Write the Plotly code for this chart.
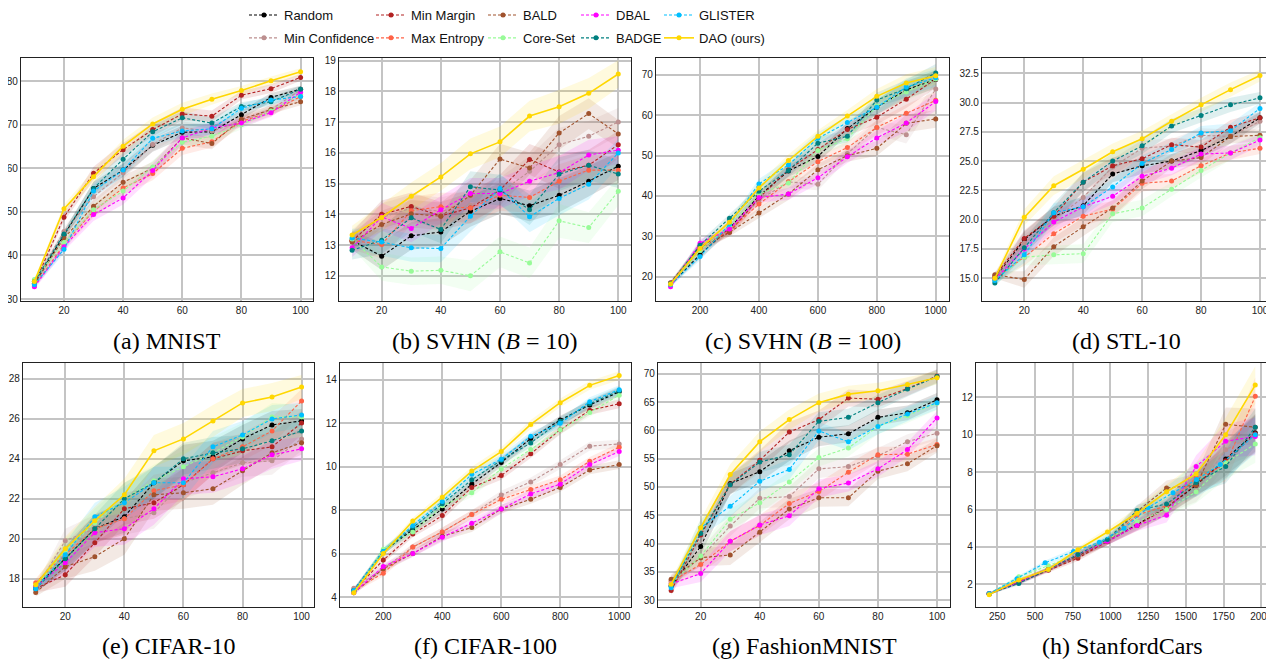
import plotly.graph_objects as go

methods = ["Random", "Min Confidence", "Min Margin", "Max Entropy", "BALD",
           "Core-Set", "DBAL", "BADGE", "GLISTER", "DAO (ours)"]
colors = ["#000000", "#bc8f8f", "#b22222", "#ff6347", "#a0522d",
          "#98fb98", "#ff00ff", "#008080", "#00bfff", "#ffd700"]
legend_ids = ["legend", "legend", "legend2", "legend2", "legend3",
              "legend3", "legend4", "legend4", "legend5", "legend5"]

x_pct = [10, 20, 30, 40, 50, 60, 70, 80, 90, 100]
x_svhn100 = [100, 200, 300, 400, 500, 600, 700, 800, 900, 1000]
x_cars = [196, 392, 588, 784, 980, 1176, 1372, 1568, 1764, 1960]
x_cars_glister = [196, 380, 567, 755, 926, 1090, 1250, 1415, 1570, 1728, 1960]

mnist = {
    "Random":         [33.5, 44.7, 55.4, 59.6, 65.3, 68.3, 68.4, 72.3, 76.3, 78.2],
    "Min Confidence": [34.0, 45.5, 53.5, 59.0, 65.5, 69.3, 68.5, 71.0, 73.5, 78.0],
    "Min Margin":     [33.5, 48.8, 58.9, 64.3, 68.9, 72.5, 72.0, 76.8, 78.3, 80.9],
    "Max Entropy":    [33.0, 42.5, 50.2, 55.5, 58.8, 64.6, 66.1, 70.8, 73.0, 76.5],
    "BALD":           [33.5, 44.0, 51.3, 56.8, 60.0, 67.0, 65.7, 71.3, 73.5, 75.3],
    "Core-Set":       [34.5, 43.0, 50.5, 54.8, 60.3, 66.0, 67.4, 70.0, 73.2, 77.0],
    "DBAL":           [32.8, 42.0, 49.4, 53.2, 59.5, 67.0, 69.3, 70.4, 72.8, 77.5],
    "BADGE":          [34.0, 44.9, 55.4, 62.1, 68.4, 71.6, 70.4, 74.2, 75.3, 78.2],
    "GLISTER":        [33.3, 41.4, 54.8, 59.6, 66.9, 68.6, 69.1, 73.8, 75.7, 76.5],
    "DAO (ours)":     [34.0, 50.7, 58.1, 65.1, 70.2, 73.6, 75.9, 77.9, 80.1, 82.2],
}
mnist_band = [0.6, 1.0, 1.5, 1.5, 1.5, 1.5, 1.3, 1.0, 1.0, 0.8]

svhn10 = {
    "Random":         [13.15, 12.64, 13.30, 13.43, 14.10, 14.52, 14.28, 14.62, 15.08, 15.57],
    "Min Confidence": [13.20, 13.90, 14.20, 14.10, 14.30, 14.70, 15.40, 16.27, 16.54, 17.01],
    "Min Margin":     [13.13, 14.00, 14.26, 13.95, 14.21, 14.79, 15.79, 15.38, 15.60, 16.27],
    "Max Entropy":    [13.15, 13.02, 14.12, 14.25, 14.21, 14.62, 14.55, 15.08, 15.44, 15.44],
    "BALD":           [13.10, 13.67, 14.02, 13.94, 14.62, 15.80, 15.51, 16.65, 17.28, 16.62],
    "Core-Set":       [13.20, 12.29, 12.15, 12.18, 12.00, 12.78, 12.42, 13.79, 13.57, 14.75],
    "DBAL":           [12.91, 13.92, 13.54, 14.15, 14.68, 14.68, 15.08, 15.36, 15.93, 16.09],
    "BADGE":          [12.83, 13.16, 13.89, 13.51, 14.90, 14.79, 14.15, 15.31, 15.60, 15.31],
    "GLISTER":        [13.23, 13.10, 12.91, 12.89, 13.94, 14.84, 13.92, 14.52, 14.98, 16.00],
    "DAO (ours)":     [13.33, 13.90, 14.59, 15.22, 15.97, 16.36, 17.20, 17.50, 17.94, 18.57],
}
svhn10_band = [0.3, 0.45, 0.45, 0.45, 0.5, 0.5, 0.5, 0.55, 0.5, 0.45]

svhn100 = {
    "Random":         [18.0, 25.5, 32.0, 40.0, 46.2, 49.8, 56.7, 62.0, 66.3, 68.9],
    "Min Confidence": [18.0, 27.5, 31.5, 39.0, 43.5, 42.9, 50.5, 57.0, 55.2, 66.5],
    "Min Margin":     [18.5, 27.5, 31.0, 39.5, 46.5, 51.5, 56.5, 59.5, 64.0, 69.0],
    "Max Entropy":    [18.3, 27.0, 31.5, 38.0, 43.5, 48.5, 52.0, 57.0, 60.5, 63.7],
    "BALD":           [18.3, 27.0, 31.0, 35.8, 40.5, 46.5, 50.0, 51.8, 58.0, 59.1],
    "Core-Set":       [18.0, 26.5, 32.5, 40.5, 43.2, 51.3, 54.2, 62.3, 65.8, 69.0],
    "DBAL":           [17.5, 28.3, 31.8, 39.6, 40.5, 44.5, 49.7, 54.4, 58.1, 63.4],
    "BADGE":          [18.3, 27.8, 34.5, 41.2, 46.3, 53.1, 54.8, 63.8, 66.6, 70.5],
    "GLISTER":        [18.0, 25.0, 33.0, 43.0, 47.7, 54.3, 58.2, 62.0, 67.0, 69.3],
    "DAO (ours)":     [18.2, 27.0, 33.5, 42.0, 48.8, 54.8, 59.8, 64.7, 68.0, 69.8],
}
svhn100_band = [0.5, 1.0, 1.0, 1.2, 1.5, 1.5, 1.5, 1.8, 2.2, 2.2]

stl10 = {
    "Random":         [15.0, 18.3, 20.3, 21.2, 23.9, 24.6, 25.0, 25.9, 27.1, 28.7],
    "Min Confidence": [15.0, 18.0, 20.0, 21.9, 24.5, 26.1, 26.3, 27.2, 27.1, 28.4],
    "Min Margin":     [15.2, 18.4, 20.3, 23.2, 24.6, 25.2, 26.4, 26.2, 27.9, 28.7],
    "Max Entropy":    [15.0, 16.8, 18.8, 20.3, 20.9, 23.1, 23.3, 24.6, 25.7, 26.1],
    "BALD":           [15.3, 14.9, 17.7, 19.4, 21.0, 23.3, 25.0, 25.3, 27.1, 27.2],
    "Core-Set":       [14.8, 16.8, 17.0, 17.1, 20.5, 21.0, 22.6, 24.2, 25.7, 27.0],
    "DBAL":           [14.9, 17.5, 19.8, 21.1, 22.0, 23.7, 24.4, 25.6, 25.7, 26.8],
    "BADGE":          [14.6, 17.6, 20.6, 23.2, 25.0, 26.3, 28.0, 28.9, 29.8, 30.4],
    "GLISTER":        [14.8, 17.0, 20.6, 21.1, 22.8, 24.8, 26.0, 27.4, 27.6, 29.5],
    "DAO (ours)":     [15.0, 20.2, 22.9, 24.3, 25.8, 26.9, 28.4, 29.8, 31.1, 32.3],
}
stl10_band = [0.3, 0.7, 0.8, 0.8, 0.7, 0.7, 0.6, 0.6, 0.6, 0.5]

cifar10 = {
    "Random":         [17.6, 19.0, 20.5, 21.1, 22.8, 23.9, 24.1, 25.0, 25.7, 25.9],
    "Min Confidence": [17.5, 19.9, 20.5, 21.0, 21.3, 22.8, 23.3, 23.8, 23.9, 25.0],
    "Min Margin":     [17.5, 18.2, 19.8, 21.5, 21.8, 22.7, 24.0, 24.4, 24.6, 25.8],
    "Max Entropy":    [17.8, 19.2, 20.5, 21.0, 22.4, 22.7, 24.0, 24.6, 25.4, 26.9],
    "BALD":           [17.3, 18.6, 19.1, 20.0, 22.2, 22.3, 22.5, 23.4, 24.3, 24.8],
    "Core-Set":       [17.6, 19.4, 20.8, 22.0, 22.9, 23.6, 24.3, 25.1, 26.1, 26.1],
    "DBAL":           [17.6, 18.8, 20.3, 20.5, 21.5, 23.0, 23.1, 23.5, 24.2, 24.5],
    "BADGE":          [17.5, 19.0, 20.5, 22.0, 22.8, 24.0, 24.3, 24.5, 24.9, 25.4],
    "GLISTER":        [17.5, 19.2, 21.1, 21.8, 22.8, 22.8, 24.6, 25.2, 26.0, 26.2],
    "DAO (ours)":     [17.7, 19.5, 20.9, 22.2, 24.4, 25.0, 25.9, 26.8, 27.1, 27.6],
}
cifar10_band = [0.2, 0.6, 0.7, 0.8, 0.8, 0.8, 0.8, 0.7, 0.7, 0.6]

cifar100 = {
    "Random":         [4.3, 6.1, 7.1, 8.05, 9.2, 10.2, 11.3, 12.15, 12.85, 13.45],
    "Min Confidence": [4.4, 5.3, 6.3, 7.0, 7.8, 8.7, 9.3, 10.1, 10.95, 11.05],
    "Min Margin":     [4.3, 5.7, 6.9, 7.75, 9.05, 9.6, 10.6, 11.7, 12.6, 12.9],
    "Max Entropy":    [4.3, 5.1, 6.3, 7.0, 7.8, 8.5, 8.95, 9.4, 10.25, 10.9],
    "BALD":           [4.2, 5.3, 6.0, 6.8, 7.2, 8.05, 8.5, 9.05, 9.85, 10.1],
    "Core-Set":       [4.2, 6.2, 7.0, 8.2, 8.8, 9.9, 10.8, 11.7, 12.5, 13.3],
    "DBAL":           [4.2, 5.4, 6.0, 6.75, 7.4, 8.05, 8.75, 9.2, 10.1, 10.7],
    "BADGE":          [4.3, 6.1, 7.2, 8.3, 9.4, 10.3, 11.1, 12.1, 12.9, 13.5],
    "GLISTER":        [4.3, 6.1, 7.3, 8.4, 9.65, 10.35, 11.4, 12.0, 13.0, 13.55],
    "DAO (ours)":     [4.2, 6.0, 7.5, 8.6, 9.8, 10.7, 11.95, 12.95, 13.75, 14.2],
}
cifar100_band = [0.1, 0.15, 0.15, 0.2, 0.2, 0.2, 0.2, 0.2, 0.2, 0.2]

fashion = {
    "Random":         [32.5, 39.5, 50.6, 52.7, 56.4, 58.8, 59.4, 62.3, 63.1, 65.4],
    "Min Confidence": [33.5, 37.5, 43.1, 48.0, 48.3, 53.2, 53.6, 55.5, 58.0, 59.5],
    "Min Margin":     [31.7, 41.5, 50.5, 54.7, 59.7, 61.9, 65.7, 65.5, 67.4, 69.6],
    "Max Entropy":    [33.3, 36.3, 40.4, 43.2, 47.1, 49.2, 52.6, 55.7, 55.8, 57.5],
    "BALD":           [33.7, 37.5, 38.0, 42.0, 46.1, 48.1, 48.1, 52.8, 54.1, 57.3],
    "Core-Set":       [33.0, 37.8, 44.3, 47.2, 50.9, 55.2, 56.9, 60.7, 62.6, 64.8],
    "DBAL":           [32.9, 34.7, 40.4, 43.3, 44.9, 49.7, 50.7, 53.2, 56.6, 62.2],
    "BADGE":          [32.5, 41.8, 50.4, 54.4, 55.7, 61.6, 62.3, 64.9, 67.3, 69.5],
    "GLISTER":        [32.2, 42.8, 46.6, 51.0, 53.1, 59.9, 58.0, 60.7, 62.9, 64.9],
    "DAO (ours)":     [32.8, 42.8, 52.2, 58.0, 61.9, 64.9, 66.4, 67.0, 68.1, 69.3],
}
fashion_band = [0.8, 1.5, 1.8, 1.8, 1.8, 1.6, 1.5, 1.4, 1.3, 1.2]

cars = {
    "Random":         [1.5, 2.1, 2.8, 3.55, 4.3, 5.2, 6.1, 7.3, 8.7, 10.1],
    "Min Confidence": [1.5, 2.2, 2.8, 3.6, 4.3, 5.3, 6.2, 7.0, 9.2, 10.0],
    "Min Margin":     [1.5, 2.1, 2.75, 3.4, 4.3, 5.15, 6.1, 7.35, 8.6, 10.05],
    "Max Entropy":    [1.5, 2.2, 2.8, 3.6, 4.3, 5.7, 6.2, 7.7, 8.4, 12.05],
    "BALD":           [1.5, 2.2, 2.8, 3.5, 4.3, 5.9, 7.15, 7.3, 10.55, 10.4],
    "Core-Set":       [1.5, 2.4, 3.0, 3.6, 4.4, 5.35, 6.0, 6.95, 8.5, 9.5],
    "DBAL":           [1.5, 2.1, 2.8, 3.6, 4.3, 5.15, 5.7, 8.3, 9.65, 9.9],
    "BADGE":          [1.5, 2.05, 2.8, 3.6, 4.4, 5.95, 6.3, 7.45, 8.3, 10.4],
    "DAO (ours)":     [1.45, 2.23, 2.8, 3.85, 4.8, 5.8, 6.95, 7.9, 10.0, 12.65],
}
cars_glister = [1.5, 2.3, 3.15, 3.75, 4.25, 5.0, 6.1, 6.9, 7.6, 8.4, 10.0]
cars_band = [0.05, 0.1, 0.12, 0.15, 0.2, 0.3, 0.4, 0.6, 0.9, 1.0]

panels = [
    dict(data=mnist, x=x_pct, band=mnist_band, title="(a) MNIST",
         xt=[20, 40, 60, 80, 100], yt=[30, 40, 50, 60, 70, 80], yfmt=None,
         xr=[5.47, 104.2], yr=[29.54, 85.35]),
    dict(data=svhn10, x=x_pct, band=svhn10_band, title="(b) SVHN (<i>B</i> = 10)",
         xt=[20, 40, 60, 80, 100], yt=[12, 13, 14, 15, 16, 17, 18, 19], yfmt=None,
         xr=[5.57, 104.3], yr=[11.18, 19.09]),
    dict(data=svhn100, x=x_svhn100, band=svhn100_band, title="(c) SVHN (<i>B</i> = 100)",
         xt=[200, 400, 600, 800, 1000], yt=[20, 30, 40, 50, 60, 70], yfmt=None,
         xr=[50.6, 1045], yr=[13.97, 74.2]),
    dict(data=stl10, x=x_pct, band=stl10_band, title="(d) STL-10",
         xt=[20, 40, 60, 80, 100], yt=[15, 17.5, 20, 22.5, 25, 27.5, 30, 32.5], yfmt=".1f",
         xr=[5.64, 103.4], yr=[13.06, 33.8]),
    dict(data=cifar10, x=x_pct, band=cifar10_band, title="(e) CIFAR-10",
         xt=[20, 40, 60, 80, 100], yt=[18, 20, 22, 24, 26, 28], yfmt=None,
         xr=[5.69, 104.2], yr=[16.58, 28.8]),
    dict(data=cifar100, x=x_svhn100, band=cifar100_band, title="(f) CIFAR-100",
         xt=[200, 400, 600, 800, 1000], yt=[4, 6, 8, 10, 12, 14], yfmt=None,
         xr=[53.2, 1040], yr=[3.54, 14.78]),
    dict(data=fashion, x=x_pct, band=fashion_band, title="(g) FashionMNIST",
         xt=[20, 40, 60, 80, 100], yt=[30, 35, 40, 45, 50, 55, 60, 65, 70], yfmt=None,
         xr=[5.55, 104.4], yr=[28.8, 71.9]),
    dict(data=cars, x=x_cars, band=cars_band, title="(h) StanfordCars",
         xt=[250, 500, 750, 1000, 1250, 1500, 1750, 2000], yt=[2, 4, 6, 8, 10, 12], yfmt=None,
         xr=[108.6, 2051], yr=[0.79, 13.83]),
]

# the page places the figure 8px in from the top-left corner
OFF = 8
W, H = 1274 - OFF, 659 - OFF
row_y = [(58, 301), (363, 607)]
col_x = [[(21, 313), (339, 631), (656, 949), (982, 1270)],
         [(23, 314), (340, 631), (658, 950), (976, 1269)]]
cap_y = [341, 646]
SANS = "Liberation Sans, Arial, sans-serif"


def fx(px):
    return (px - OFF) / W


def fy(py):
    return 1 - (py - OFF) / H


def rgba(hexc, a):
    h = hexc.lstrip("#")
    r, g, b = int(h[0:2], 16), int(h[2:4], 16), int(h[4:6], 16)
    return f"rgba({r},{g},{b},{a})"


fig = go.Figure()
layout = {}
annotations = []

for i, p in enumerate(panels):
    r, c = divmod(i, 4)
    n = i + 1
    xa = "x" if n == 1 else f"x{n}"
    ya = "y" if n == 1 else f"y{n}"
    x0, x1 = col_x[r][c]
    y0, y1 = row_y[r]
    axis_common = dict(showgrid=True, gridcolor="#c4c4c4", gridwidth=1.5,
                       showline=True, linecolor="#222222", linewidth=1.3, mirror=True,
                       ticks="", tickfont=dict(family=SANS, size=10, color="#222222"),
                       zeroline=False, automargin=False)
    layout["xaxis" if n == 1 else f"xaxis{n}"] = dict(
        domain=[fx(x0), fx(x1)], anchor=ya, range=p["xr"], tickmode="array",
        tickvals=p["xt"], **axis_common)
    yax = dict(domain=[fy(y1), fy(y0)], anchor=xa, range=p["yr"],
               tickmode="array", tickvals=p["yt"], **axis_common)
    if p["yfmt"]:
        yax["tickformat"] = p["yfmt"]
    layout["yaxis" if n == 1 else f"yaxis{n}"] = yax
    annotations.append(dict(text=p["title"], x=fx((x0 + x1) / 2), y=fy(cap_y[r]),
                            xref="paper", yref="paper", showarrow=False,
                            xanchor="center", yanchor="middle",
                            font=dict(family="Liberation Serif", size=24, color="black")))

    # uncertainty bands
    for m, col in zip(methods, colors):
        if m == "GLISTER" and p["data"] is cars:
            xs, ys = x_cars_glister, cars_glister
            bd = [cars_band[min(k, 9)] for k in range(len(xs))]
        else:
            xs, ys, bd = p["x"], p["data"][m], p["band"]
        up = [v + b for v, b in zip(ys, bd)]
        lo = [v - b for v, b in zip(ys, bd)]
        fig.add_trace(go.Scatter(x=list(xs) + list(xs)[::-1], y=up + lo[::-1],
                                 fill="toself", fillcolor=rgba(col, 0.13),
                                 line=dict(width=0), mode="lines", hoverinfo="skip",
                                 showlegend=False, legendgroup=m, xaxis=xa, yaxis=ya))
    # lines
    for m, col, lg in zip(methods, colors, legend_ids):
        if m == "GLISTER" and p["data"] is cars:
            xs, ys = x_cars_glister, cars_glister
        else:
            xs, ys = p["x"], p["data"][m]
        dao = m.startswith("DAO")
        fig.add_trace(go.Scatter(
            x=xs, y=ys, mode="lines+markers", name=m, legendgroup=m,
            line=dict(color=col, width=1.6 if dao else 1.1, dash="solid" if dao else "3px,2px"),
            marker=dict(color=col, size=5, symbol="circle"),
            showlegend=(i == 0), legend=lg, xaxis=xa, yaxis=ya))

leg_text_x = [284, 411, 523, 616, 699]
leg_common = dict(orientation="v", yanchor="top", xanchor="left",
                  font=dict(family=SANS, size=13, color="#111111"),
                  bgcolor="rgba(0,0,0,0)", itemwidth=30, tracegroupgap=3)
for k, lid in enumerate(["legend", "legend2", "legend3", "legend4", "legend5"]):
    layout[lid] = dict(x=(leg_text_x[k] - OFF - 40) / W, y=1 + 8 / H, **leg_common)

fig.update_layout(width=W, height=H,
                  margin=dict(l=0, r=0, t=0, b=0, autoexpand=False),
                  plot_bgcolor="white", paper_bgcolor="white",
                  annotations=annotations, **layout)

fig.write_html("out.html")
